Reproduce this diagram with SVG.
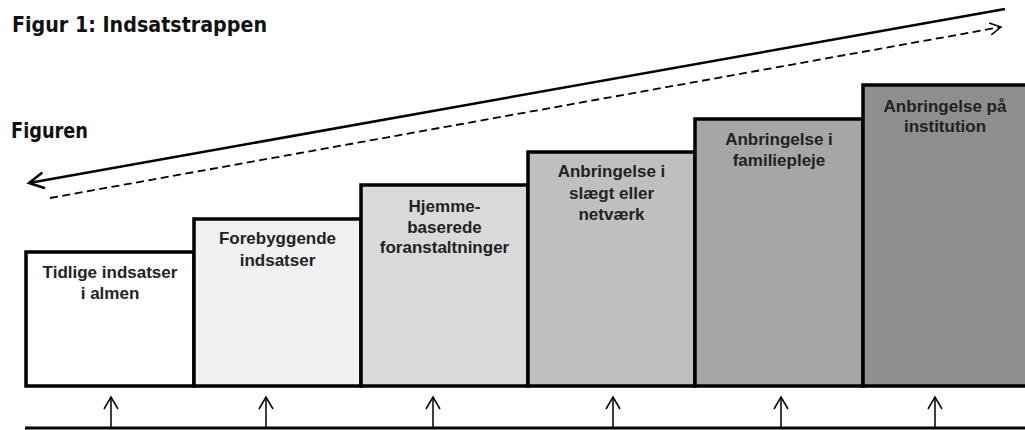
<svg xmlns="http://www.w3.org/2000/svg" width="1025" height="430" viewBox="0 0 1025 430">
  <style>
    .box { stroke: #000; stroke-width: 3.5; }
    .lbl { font-family: "Liberation Sans", Arial, sans-serif; font-weight: bold; font-size: 17px; fill: #222; text-anchor: middle; }
    .ttl { font-family: "DejaVu Sans", Verdana, sans-serif; font-weight: bold; font-size: 21px; fill: #111; }
    .up { stroke: #000; stroke-width: 1.5; fill: none; marker-end: url(#chev); }
  </style>
  <defs>
    <marker id="openBig" markerUnits="userSpaceOnUse" markerWidth="20" markerHeight="20" refX="16" refY="9" orient="auto">
      <path d="M1,1 L16,9 L1,17" fill="none" stroke="#000" stroke-width="2.5"/>
    </marker>
    <marker id="openSmall" markerUnits="userSpaceOnUse" markerWidth="16" markerHeight="16" refX="12" refY="7" orient="auto">
      <path d="M1,1 L12,7 L1,13" fill="none" stroke="#000" stroke-width="1.5"/>
    </marker>
    <marker id="chev" markerUnits="userSpaceOnUse" markerWidth="16" markerHeight="20" refX="13" refY="8" orient="auto">
      <path d="M1,1 L13,8 L1,15" fill="none" stroke="#000" stroke-width="1.5"/>
    </marker>
  </defs>

  <rect width="1025" height="430" fill="#fff"/>

  <text id="title" class="ttl" x="12" y="32" textLength="255" lengthAdjust="spacingAndGlyphs">Figur 1: Indsatstrappen</text>
  <text id="figuren" class="ttl" x="11" y="138" textLength="77" lengthAdjust="spacingAndGlyphs">Figuren</text>

  <g id="connectors">
    <line x1="1005" y1="9" x2="29" y2="183" stroke="#000" stroke-width="2.5" marker-end="url(#openBig)"/>
    <line x1="50" y1="198" x2="1001" y2="27" stroke="#000" stroke-width="1.8" stroke-dasharray="8,4.5" marker-end="url(#openSmall)"/>
    <line x1="25" y1="428" x2="1025" y2="428" stroke="#000" stroke-width="3"/>
    <line class="up" x1="111" y1="428" x2="111" y2="397"/>
    <line class="up" x1="266" y1="428" x2="266" y2="397"/>
    <line class="up" x1="433" y1="428" x2="433" y2="397"/>
    <line class="up" x1="613" y1="428" x2="613" y2="397"/>
    <line class="up" x1="781" y1="428" x2="781" y2="397"/>
    <line class="up" x1="935" y1="428" x2="935" y2="397"/>
  </g>

  <g id="step1">
    <rect class="box" x="26" y="252" width="168" height="134" fill="#ffffff"/>
    <text class="lbl" x="110" y="278">Tidlige indsatser</text>
    <text class="lbl" x="110" y="299">i almen</text>
  </g>
  <g id="step2">
    <rect class="box" x="194" y="219" width="167" height="167" fill="#f1f1f1"/>
    <text class="lbl" x="277.5" y="244">Forebyggende</text>
    <text class="lbl" x="277.5" y="266">indsatser</text>
  </g>
  <g id="step3">
    <rect class="box" x="361" y="185" width="167" height="201" fill="#d9d9d9"/>
    <text class="lbl" x="444.5" y="212">Hjemme-</text>
    <text class="lbl" x="444.5" y="233">baserede</text>
    <text class="lbl" x="444.5" y="253">foranstaltninger</text>
  </g>
  <g id="step4">
    <rect class="box" x="528" y="152" width="167" height="234" fill="#bfbfbf"/>
    <text class="lbl" x="611.5" y="177">Anbringelse i</text>
    <text class="lbl" x="611.5" y="199">slægt eller</text>
    <text class="lbl" x="611.5" y="220">netværk</text>
  </g>
  <g id="step5">
    <rect class="box" x="695" y="119" width="168" height="267" fill="#a6a6a6"/>
    <text class="lbl" x="779" y="145">Anbringelse i</text>
    <text class="lbl" x="779" y="166">familiepleje</text>
  </g>
  <g id="step6">
    <rect class="box" x="863" y="85" width="175" height="301" fill="#8e8e8e"/>
    <text class="lbl" x="945" y="112">Anbringelse på</text>
    <text class="lbl" x="945" y="132">institution</text>
  </g>
</svg>
